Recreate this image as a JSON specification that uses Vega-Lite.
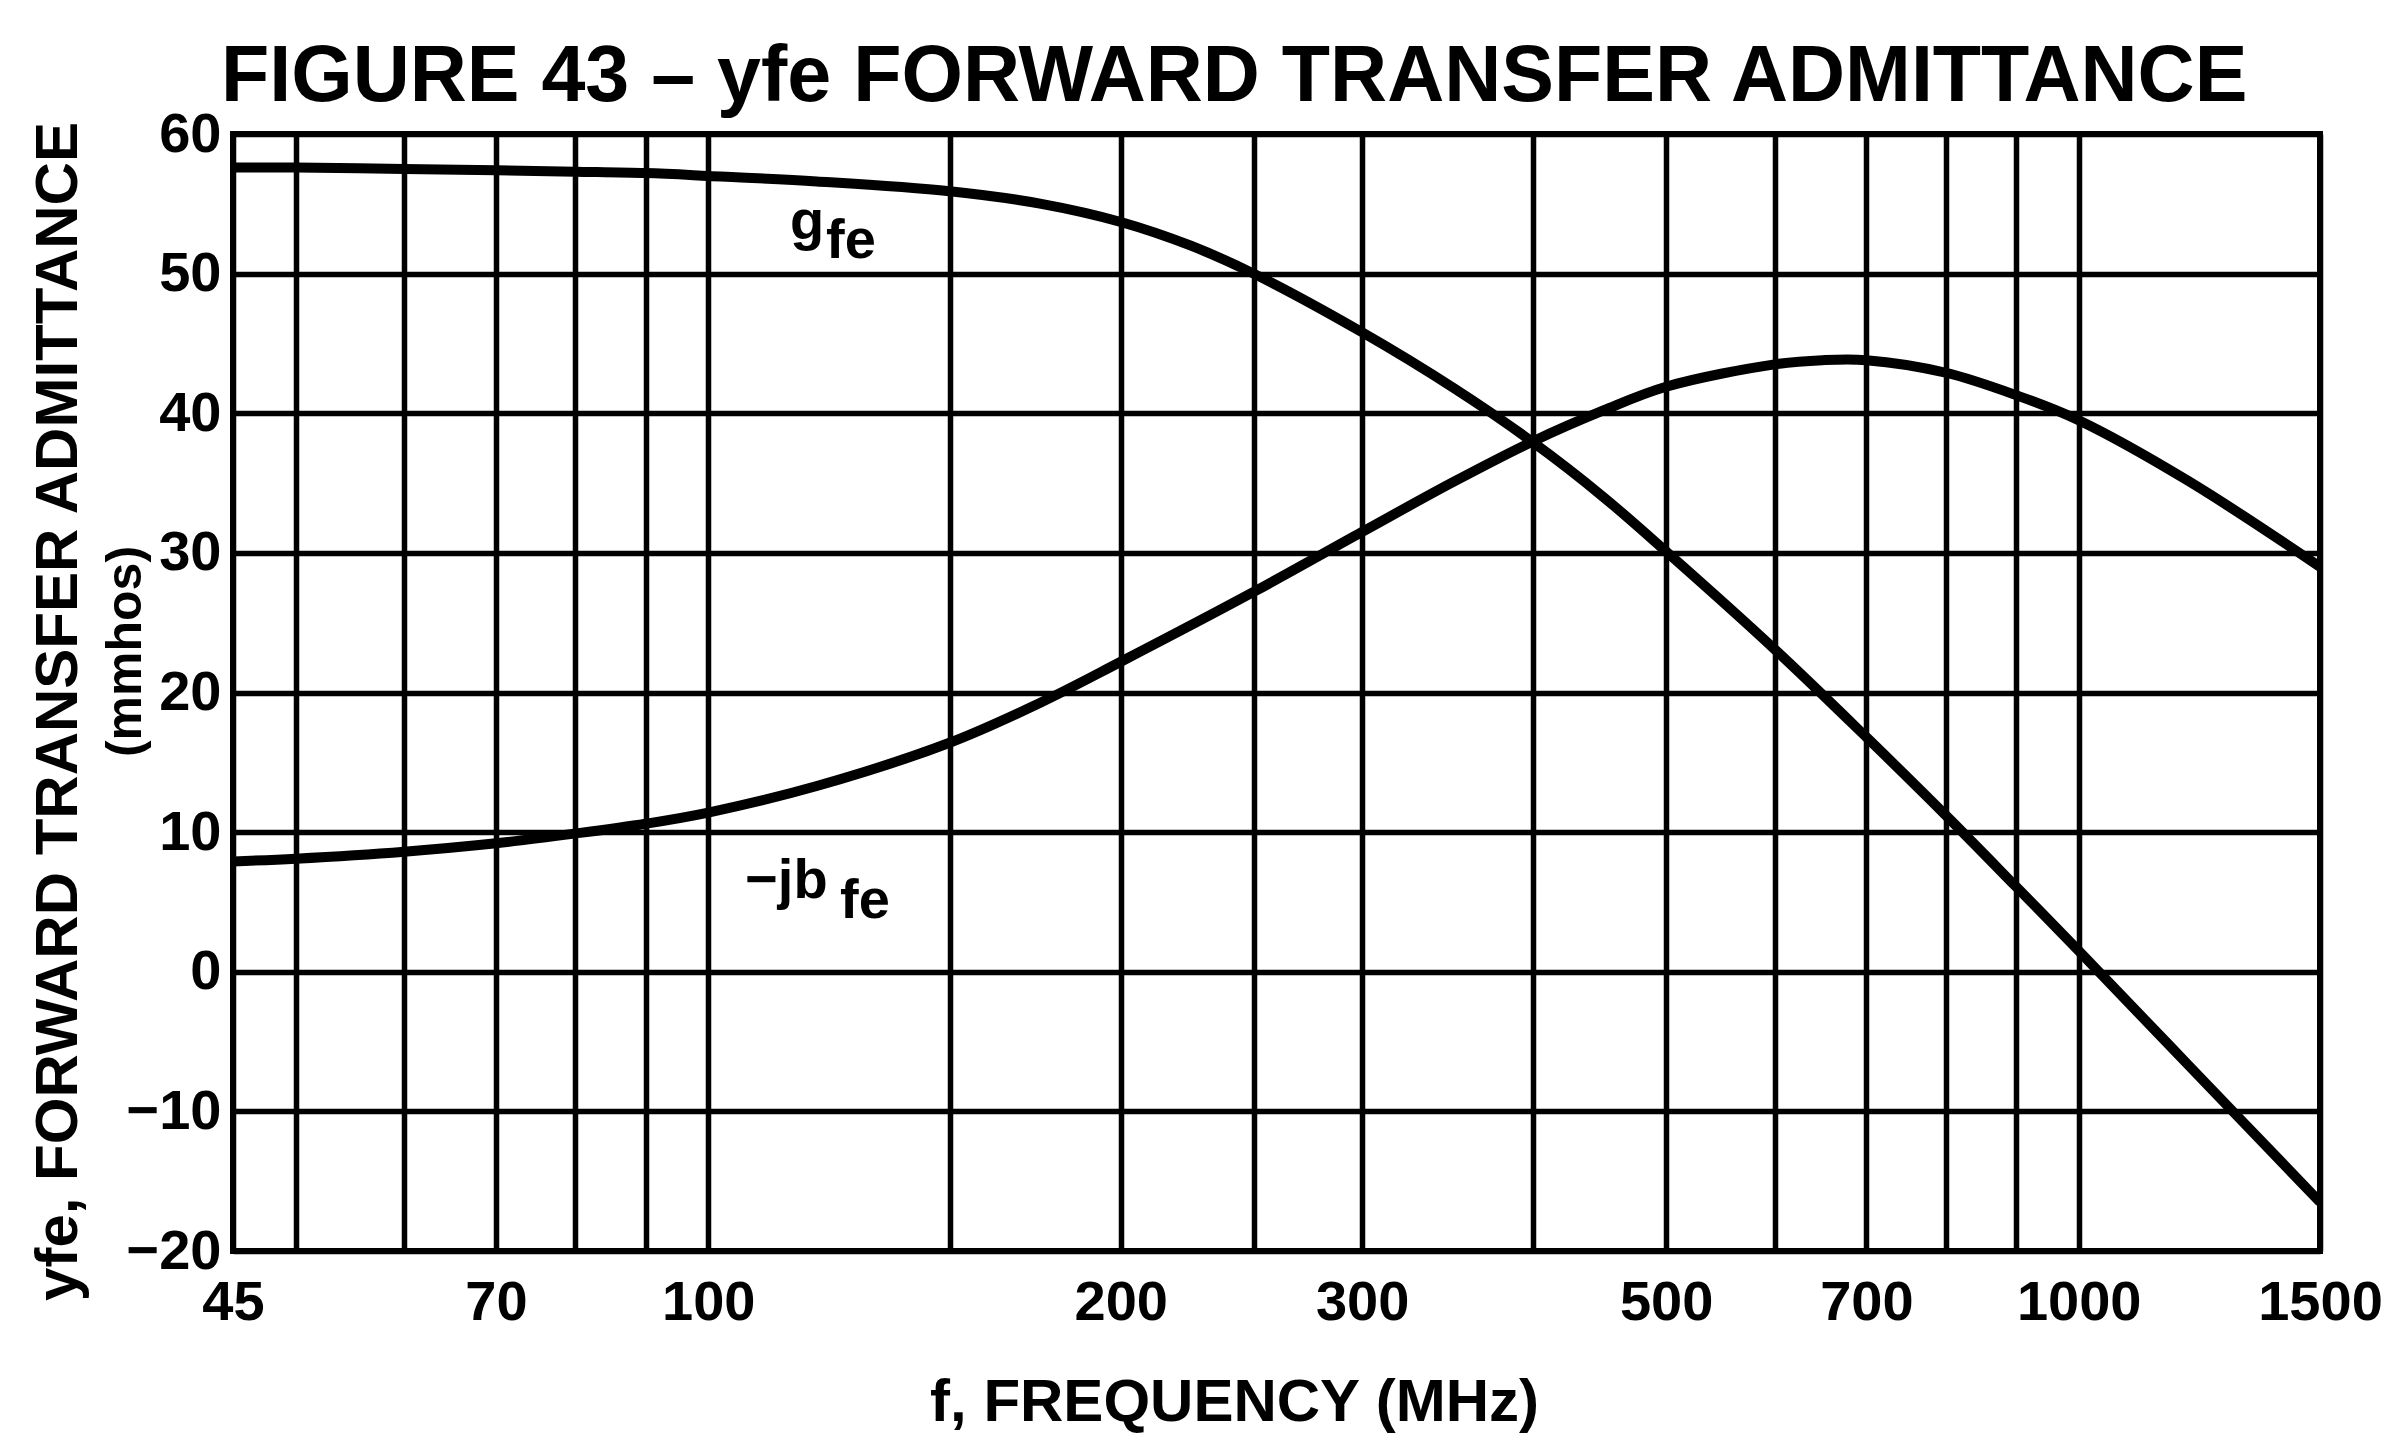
{
  "$schema": "https://vega.github.io/schema/vega-lite/v6.json",
  "width": 2087,
  "height": 1117,
  "autosize": {"type": "none"},
  "padding": {"left": 233, "top": 134, "right": 66, "bottom": 199},
  "background": "white",
  "config": {
    "view": {"stroke": "black", "strokeWidth": 6},
    "axis": {"labelColor": "black", "titleColor": "black"}
  },
  "title": {
    "text": "FIGURE 43 – yfe FORWARD TRANSFER ADMITTANCE",
    "anchor": "start",
    "frame": "group",
    "font": "Liberation Sans, Arial, sans-serif",
    "fontWeight": "bold",
    "fontSize": 79,
    "color": "black",
    "baseline": "alphabetic",
    "offset": 28,
    "dx": -12,
    "dy": 102
  },
  "datasets": {
    "curves": [
      {"series": "gfe", "freq": 45, "value": 57.6},
      {"series": "gfe", "freq": 50, "value": 57.6},
      {"series": "gfe", "freq": 60, "value": 57.5},
      {"series": "gfe", "freq": 70, "value": 57.4},
      {"series": "gfe", "freq": 80, "value": 57.3},
      {"series": "gfe", "freq": 90, "value": 57.2},
      {"series": "gfe", "freq": 100, "value": 57.0},
      {"series": "gfe", "freq": 120, "value": 56.6},
      {"series": "gfe", "freq": 150, "value": 55.9},
      {"series": "gfe", "freq": 175, "value": 55.0},
      {"series": "gfe", "freq": 200, "value": 53.7},
      {"series": "gfe", "freq": 225, "value": 52.0},
      {"series": "gfe", "freq": 250, "value": 50.0},
      {"series": "gfe", "freq": 300, "value": 45.8},
      {"series": "gfe", "freq": 350, "value": 41.8},
      {"series": "gfe", "freq": 400, "value": 37.9},
      {"series": "gfe", "freq": 450, "value": 34.0},
      {"series": "gfe", "freq": 500, "value": 30.1},
      {"series": "gfe", "freq": 600, "value": 23.1},
      {"series": "gfe", "freq": 700, "value": 16.8},
      {"series": "gfe", "freq": 800, "value": 11.2},
      {"series": "gfe", "freq": 900, "value": 6.1},
      {"series": "gfe", "freq": 1000, "value": 1.5},
      {"series": "gfe", "freq": 1200, "value": -6.6},
      {"series": "gfe", "freq": 1500, "value": -16.5},
      {"series": "jbfe", "freq": 45, "value": 7.9},
      {"series": "jbfe", "freq": 50, "value": 8.1},
      {"series": "jbfe", "freq": 60, "value": 8.6},
      {"series": "jbfe", "freq": 70, "value": 9.2},
      {"series": "jbfe", "freq": 80, "value": 9.9},
      {"series": "jbfe", "freq": 90, "value": 10.6},
      {"series": "jbfe", "freq": 100, "value": 11.4},
      {"series": "jbfe", "freq": 120, "value": 13.3},
      {"series": "jbfe", "freq": 150, "value": 16.4},
      {"series": "jbfe", "freq": 175, "value": 19.3},
      {"series": "jbfe", "freq": 200, "value": 22.2},
      {"series": "jbfe", "freq": 250, "value": 27.2},
      {"series": "jbfe", "freq": 300, "value": 31.5},
      {"series": "jbfe", "freq": 350, "value": 35.1},
      {"series": "jbfe", "freq": 400, "value": 38.0},
      {"series": "jbfe", "freq": 450, "value": 40.2},
      {"series": "jbfe", "freq": 500, "value": 41.9},
      {"series": "jbfe", "freq": 600, "value": 43.5},
      {"series": "jbfe", "freq": 650, "value": 43.8},
      {"series": "jbfe", "freq": 700, "value": 43.8},
      {"series": "jbfe", "freq": 800, "value": 42.9},
      {"series": "jbfe", "freq": 900, "value": 41.3},
      {"series": "jbfe", "freq": 1000, "value": 39.5},
      {"series": "jbfe", "freq": 1200, "value": 35.2},
      {"series": "jbfe", "freq": 1500, "value": 29.0}
    ],
    "labels": [
      {"label": "g", "freq": 114.7, "value": 52.5},
      {"label": "fe", "freq": 121.9, "value": 51.1},
      {"label": "−jb", "freq": 106.4, "value": 5.27},
      {"label": "fe", "freq": 124.8, "value": 3.84}
    ]
  },
  "resolve": {"axis": {"y": "independent"}},
  "layer": [
    {
      "data": {"name": "curves"},
      "mark": {"type": "line", "interpolate": "catmull-rom", "strokeWidth": 10, "color": "black", "clip": true},
      "encoding": {
        "x": {
          "field": "freq",
          "type": "quantitative",
          "scale": {"type": "log", "domain": [45, 1500], "nice": false},
          "axis": {
            "values": [45, 50, 60, 70, 80, 90, 100, 150, 200, 250, 300, 400, 500, 600, 700, 800, 900, 1000, 1500],
            "labelExpr": "indexof([45,70,100,200,300,500,700,1000,1500], datum.value) >= 0 ? '' + datum.value : ''",
            "grid": true,
            "gridColor": "black",
            "gridOpacity": 1,
            "gridWidth": 5.5,
            "domain": false,
            "ticks": false,
            "tickSize": 0,
            "labelPadding": 24,
            "labelFont": "Liberation Sans, Arial, sans-serif",
            "labelFontSize": 56,
            "labelFontWeight": "bold",
            "labelFlush": false,
            "labelOverlap": false,
            "labelBound": false,
            "title": "f, FREQUENCY (MHz)",
            "titleFont": "Liberation Sans, Arial, sans-serif",
            "titleFontSize": 60,
            "titleFontWeight": "bold",
            "titleX": 1001,
            "titleY": 169,
            "titleAlign": "center",
            "titleBaseline": "alphabetic"
          }
        },
        "y": {
          "field": "value",
          "type": "quantitative",
          "scale": {"domain": [-20, 60], "nice": false, "zero": false},
          "axis": {
            "orient": "left",
            "values": [-20, -10, 0, 10, 20, 30, 40, 50, 60],
            "grid": true,
            "gridColor": "black",
            "gridOpacity": 1,
            "gridWidth": 5.5,
            "domain": false,
            "ticks": false,
            "tickSize": 0,
            "labelPadding": 12,
            "labelFont": "Liberation Sans, Arial, sans-serif",
            "labelFontSize": 56,
            "labelFontWeight": "bold",
            "labelFlush": false,
            "labelOverlap": false,
            "labelBound": false,
            "title": "yfe, FORWARD TRANSFER ADMITTANCE",
            "titleFont": "Liberation Sans, Arial, sans-serif",
            "titleFontSize": 60,
            "titleFontWeight": "bold",
            "titleAngle": 270,
            "titleX": -157,
            "titleY": 577,
            "titleAlign": "center",
            "titleBaseline": "alphabetic"
          }
        },
        "detail": {"field": "series", "type": "nominal"}
      }
    },
    {
      "data": {"name": "labels"},
      "mark": {
        "type": "text",
        "align": "left",
        "baseline": "alphabetic",
        "font": "Liberation Sans, Arial, sans-serif",
        "fontWeight": "bold",
        "fontSize": 56,
        "color": "black"
      },
      "encoding": {
        "x": {"field": "freq", "type": "quantitative"},
        "y": {
          "field": "value",
          "type": "quantitative",
          "axis": {
            "orient": "left",
            "labels": false,
            "grid": false,
            "domain": false,
            "ticks": false,
            "tickSize": 0,
            "title": "(mmhos)",
            "titleFont": "Liberation Sans, Arial, sans-serif",
            "titleFontSize": 50,
            "titleFontWeight": "bold",
            "titleAngle": 270,
            "titleX": -93,
            "titleY": 517,
            "titleAlign": "center",
            "titleBaseline": "alphabetic"
          }
        },
        "text": {"field": "label", "type": "nominal"}
      }
    }
  ]
}
